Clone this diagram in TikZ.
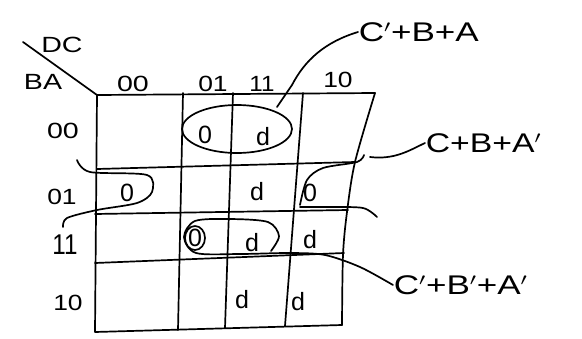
\documentclass[tikz,border=0pt]{standalone}
\usepackage{fontspec}
\setmainfont{Liberation Sans}
\begin{document}
\begin{tikzpicture}[x=1pt,y=-1pt, line width=1.7pt, line join=round, line cap=round,
  lbl/.style={font=\fontsize{22}{22}\selectfont, inner sep=0pt},
  cell/.style={font=\fontsize{25}{25}\selectfont, inner sep=0pt},
  expr/.style={font=\fontsize{27}{27}\selectfont, inner sep=0pt, anchor=west}]
\useasboundingbox (0,0) rectangle (582,338);
% grid
\coordinate (TL) at (97,95);
\coordinate (TR) at (375,93);
\coordinate (BL) at (95,332);
\coordinate (BR) at (342,325);
\draw (BR) -- (BL) -- (TL) -- (TR);
\draw plot[smooth] coordinates {(375,93) (355,162) (347,212) (343,255) (342,325)};
\draw (97,169) -- (355,162);
\draw (95,214) -- (348,210);
\draw (95,263) -- (344,253);
\draw (183,93) -- (178,330);
\draw (233,93) -- (225,328);
\draw (303,93) -- (285,326);
% corner
\coordinate (D0) at (23,42);
\draw (D0) -- (TL);
\node[lbl] (dc) at (62,45) {\scalebox{1.3}[1]{DC}};
\node[lbl] (ba) at (43,82) {\scalebox{1.3}[1]{BA}};
% column labels
\node[lbl] (c00) at (133,84) {\scalebox{1.3}[1]{00}};
\node[lbl] (c01) at (213,84) {\scalebox{1.2}[1]{01}};
\node[lbl] (c11) at (262,84) {\scalebox{1.1}[1]{11}};
\node[lbl] (c10) at (338,80) {\scalebox{1.2}[1]{10}};
% row labels
\node[lbl] (r00) at (63,131) {\scalebox{1.3}[1]{00}};
\node[lbl] (r01) at (62,197) {\scalebox{1.2}[1]{01}};
\node[lbl] (r11) at (65,245) {\scalebox{1.1}[1.3]{11}};
\node[lbl] (r10) at (68,303) {\scalebox{1.2}[1]{10}};
% cells
\node[cell] (a1) at (205,135) {0};
\node[cell] (a2) at (263,137) {d};
\node[cell] (b1) at (127,193) {0};
\node[cell] (b2) at (257,192) {d};
\node[cell] (b3) at (310,193) {0};
\node[cell] (e1) at (195,238) {0};
\node[cell] (e2) at (252,243) {d};
\node[cell] (e3) at (310,240) {d};
\node[cell] (f1) at (242,300) {d};
\node[cell] (f2) at (298,302) {d};
\draw (e1) ellipse [x radius=10, y radius=12];
% group 1
\draw (237,129) ellipse [x radius=55, y radius=24];
\node[expr] (g1) at (358,32) {\scalebox{1.3}[1]{C$'$+B+A}};
\coordinate (g1a) at (277,107);
\draw (g1a) -- (292,85) .. controls (305,60) and (325,42) .. (g1.west);
% group 2
\draw plot[smooth] coordinates {(77,160) (90,172) (147,175) (152,192) (137,203) (97,210) (67,218) (63,227)};
\draw plot[smooth] coordinates {(300,205) (307,180) (323,168) (357,162) (364,155)};
\draw plot[smooth] coordinates {(300,207) (330,207) (363,208) (377,217)};
\node[expr] (g2) at (425,143) {\scalebox{1.25}[1]{C+B+A$'$}};
\coordinate (g2a) at (370,157);
\draw (g2a) .. controls (395,160) and (410,150) .. (g2.west);
% group 3
\node[expr] (g3) at (393,285) {\scalebox{1.3}[1]{C$'$+B$'$+A$'$}};
\draw plot[smooth] coordinates {(271,251) (279,236) (268,222) (230,219) (195,221) (184,237) (196,253) (240,254) (290,253) (325,255) (360,267) (g3.west)};
\end{tikzpicture}
\end{document}
